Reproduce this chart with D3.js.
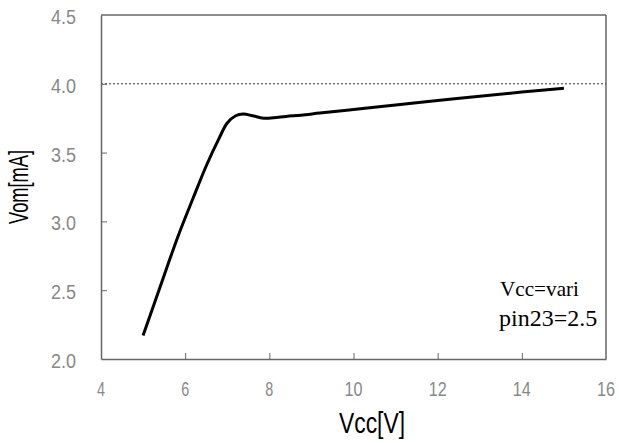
<!DOCTYPE html>
<html>
<head>
<meta charset="utf-8">
<script src="https://cdn.jsdelivr.net/npm/d3@7"></script>
<style>
  html, body { margin: 0; padding: 0; background: #fff; }
  svg { display: block; }
</style>
</head>
<body>
<svg id="chart" width="619" height="443"></svg>
<script>
// Supply voltage sweep (V) and measured output (mA)
const vcc = [5.0, 5.4, 5.84, 6.19, 6.51, 6.8, 7.0, 7.2, 7.38, 7.6, 7.86, 8.1, 8.4, 8.75, 9.2, 10.0, 11.0, 12.0, 13.0, 14.0, 15.0];
const vom = [2.17, 2.52, 2.90, 3.17, 3.41, 3.60, 3.715, 3.768, 3.78, 3.768, 3.75, 3.753, 3.763, 3.772, 3.787, 3.813, 3.846, 3.878, 3.91, 3.94, 3.967];

const xTicks = [4, 6, 8, 10, 12, 14, 16];
const yTicks = [2.0, 2.5, 3.0, 3.5, 4.0, 4.5];
const refLevel = 4.0;
const notes = ["Vcc=vari", "pin23=2.5"];

const svg = d3.select("#chart");
const m = { left: 101, right: 606, top: 15, bottom: 359 };

const x = d3.scaleLinear().domain([4, 16]).range([m.left, m.right]);
const y = d3.scaleLinear().domain([2.0, 4.5]).range([m.bottom, m.top]);

const axisColor = "#666";
const labelColor = "#888";

// Reference level (dotted)
svg.append("line")
  .attr("x1", x(4)).attr("x2", x(16))
  .attr("y1", y(refLevel)).attr("y2", y(refLevel))
  .attr("stroke", "#333").attr("stroke-width", 1)
  .attr("stroke-dasharray", "2,2");

// Bottom axis: ticks pointing inward
const xAxis = d3.axisBottom(x).tickValues(xTicks).tickSizeInner(-6).tickSizeOuter(0).tickFormat("");
const gx = svg.append("g").attr("transform", `translate(0,${m.bottom})`).call(xAxis);
gx.select(".domain").attr("stroke", axisColor).attr("stroke-width", 1.5);
gx.selectAll(".tick line").attr("stroke", axisColor);
gx.selectAll(".tick").filter(d => d === 4 || d === 16).select("line").remove();

// Left axis: ticks pointing inward
const yAxis = d3.axisLeft(y).tickValues(yTicks).tickSizeInner(-6).tickSizeOuter(0).tickFormat("");
const gy = svg.append("g").attr("transform", `translate(${m.left},0)`).call(yAxis);
gy.select(".domain").attr("stroke", axisColor).attr("stroke-width", 1.5);
gy.selectAll(".tick line").attr("stroke", axisColor);
gy.selectAll(".tick").filter(d => d === 2.0 || d === 4.5).select("line").remove();

// Top and right frame
svg.append("line").attr("x1", m.left).attr("x2", m.right).attr("y1", m.top).attr("y2", m.top)
  .attr("stroke", axisColor).attr("stroke-width", 1.5);
svg.append("line").attr("x1", m.right).attr("x2", m.right).attr("y1", m.top).attr("y2", m.bottom)
  .attr("stroke", axisColor).attr("stroke-width", 1.5);

// Narrow tick labels
const tickFont = "'Liberation Sans', Arial, sans-serif";
svg.append("g").selectAll("text").data(xTicks).join("text")
  .attr("x", d => x(d)).attr("y", m.bottom + 37)
  .attr("text-anchor", "middle")
  .attr("font-family", tickFont).attr("font-size", 20)
  .attr("fill", labelColor)
  .attr("textLength", d => String(d).length === 1 ? 8 : 18)
  .attr("lengthAdjust", "spacingAndGlyphs")
  .text(d => d);

svg.append("g").selectAll("text").data(yTicks).join("text")
  .attr("x", 76).attr("y", d => y(d) + 9)
  .attr("text-anchor", "end")
  .attr("font-family", tickFont).attr("font-size", 20)
  .attr("fill", labelColor)
  .attr("textLength", 25)
  .attr("lengthAdjust", "spacingAndGlyphs")
  .text(d => d3.format(".1f")(d));

// Axis titles
svg.append("text")
  .attr("x", 372).attr("y", 433)
  .attr("text-anchor", "middle")
  .attr("font-family", tickFont).attr("font-size", 29)
  .attr("fill", "#000")
  .attr("textLength", 66).attr("lengthAdjust", "spacingAndGlyphs")
  .text("Vcc[V]");

svg.append("text")
  .attr("transform", "translate(28,187) rotate(-90)")
  .attr("text-anchor", "middle")
  .attr("font-family", tickFont).attr("font-size", 27)
  .attr("fill", "#000")
  .attr("textLength", 74).attr("lengthAdjust", "spacingAndGlyphs")
  .text("Vom[mA]");

// Measured curve
const pts = vcc.map((v, i) => [v, vom[i]]);
const line = d3.line().x(d => x(d[0])).y(d => y(d[1])).curve(d3.curveCatmullRom.alpha(0.5));
svg.append("path")
  .datum(pts)
  .attr("d", line)
  .attr("fill", "none")
  .attr("stroke", "#000")
  .attr("stroke-width", 3)
  .attr("stroke-linecap", "butt")
  .attr("stroke-linejoin", "round");

// Test conditions
const serif = "'Liberation Serif', 'Times New Roman', serif";
svg.append("text")
  .attr("x", 500).attr("y", 296)
  .attr("font-family", serif).attr("font-size", 21).attr("fill", "#000")
  .attr("textLength", 79).attr("lengthAdjust", "spacingAndGlyphs")
  .text(notes[0]);
svg.append("text")
  .attr("x", 499).attr("y", 326)
  .attr("font-family", serif).attr("font-size", 24).attr("fill", "#000")
  .text(notes[1]);
</script>
</body>
</html>
